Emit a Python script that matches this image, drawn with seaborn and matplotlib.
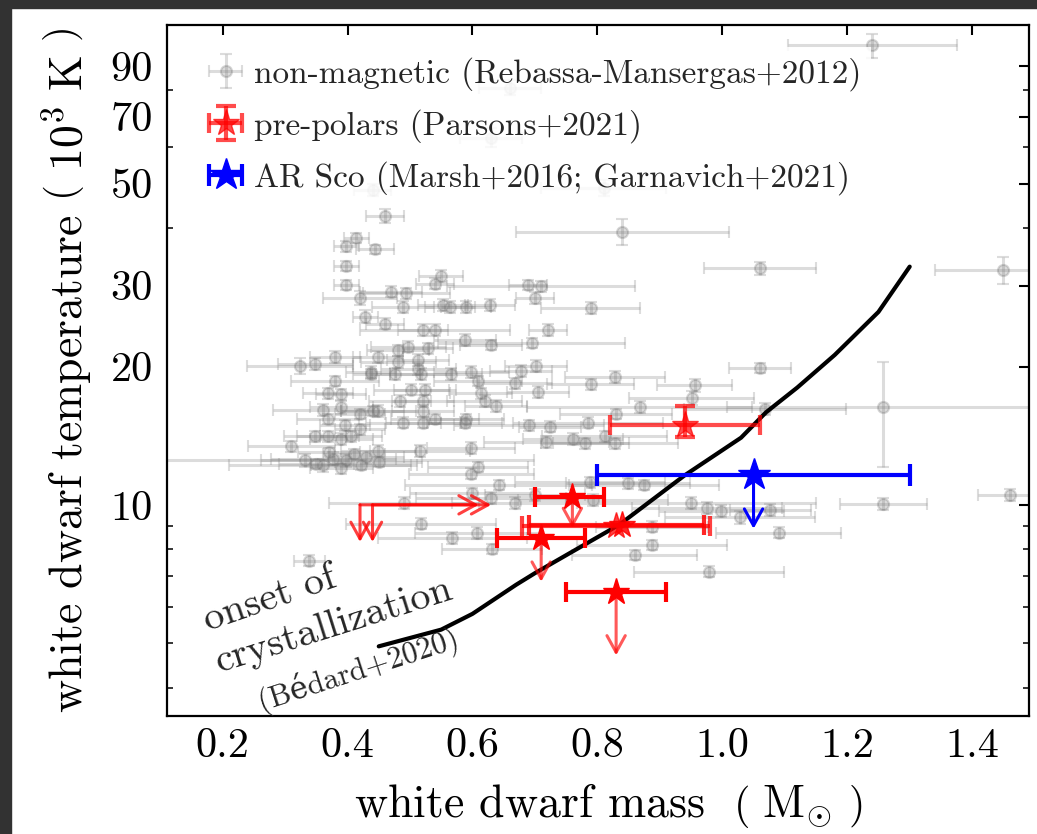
import matplotlib
matplotlib.use("Agg")
import matplotlib.pyplot as plt
import seaborn as sns
from matplotlib.ticker import FixedLocator, FixedFormatter, NullFormatter
from matplotlib.patches import Rectangle

# ---------------- data ----------------
# non-magnetic white dwarfs (Rebassa-Mansergas+2012): mass (Msun), Teff (10^3 K)
nm_mass = [1.24, 0.66, 0.63, 0.44, 0.46, 0.81, 0.84, 1.06, 1.45, 0.414,
           0.398, 0.444, 0.398, 0.398, 0.42, 0.428, 0.55, 0.54, 0.47, 0.494,
           0.689, 0.71, 0.70, 0.489, 0.553, 0.564, 0.59, 0.628, 0.46, 0.521,
           0.54, 0.721, 0.789, 0.695, 0.588, 0.63, 0.449, 0.481, 0.497, 0.513,
           0.529, 0.481, 0.678, 0.702, 0.513, 0.566, 0.598, 0.609, 0.668, 0.705,
           0.438, 0.476, 0.518, 0.502, 0.524, 0.521, 0.614, 0.62, 0.638, 0.484,
           0.449, 0.521, 0.489, 0.521, 0.54, 0.588, 0.724, 0.718, 0.598, 0.516,
           0.609, 0.598, 0.828, 0.789, 0.956, 0.951, 0.868, 1.068, 1.06, 1.258,
           0.83, 0.785, 0.69, 0.812, 0.761, 0.78, 0.829, 0.642, 0.788, 0.849,
           0.874, 0.49, 0.60, 0.63, 0.668, 0.70, 0.793, 0.95, 0.975, 0.998,
           1.028, 1.077, 1.09, 0.518, 0.568, 0.608, 0.632, 0.887, 0.887, 0.86,
           0.978, 0.339, 1.46, 1.258, 0.324, 0.348, 0.38, 0.38, 0.369, 0.39,
           0.361, 0.39, 0.369, 0.42, 0.44, 0.438, 0.31, 0.348, 0.369, 0.39,
           0.396, 0.406, 0.42, 0.43, 0.332, 0.377, 0.398, 0.422, 0.361, 0.449,
           0.59, 0.35, 0.39, 0.41, 0.45, 0.37]
nm_temp = [100.0, 81.0, 63.0, 48.5, 42.5, 49.0, 39.3, 32.7, 32.5, 38.1,
           36.6, 36.0, 33.1, 30.1, 28.2, 25.7, 31.5, 30.3, 29.1, 28.9,
           30.1, 29.9, 28.2, 27.0, 27.2, 27.0, 27.0, 27.2, 24.8, 24.0,
           24.0, 24.0, 26.8, 22.5, 22.9, 22.3, 21.0, 21.7, 22.1, 20.7,
           21.9, 20.5, 19.6, 20.1, 19.8, 19.3, 19.5, 18.6, 18.4, 17.6,
           19.5, 19.3, 19.3, 17.8, 17.8, 16.8, 17.5, 16.8, 16.4, 16.8,
           16.0, 16.0, 15.1, 15.1, 15.4, 15.1, 14.8, 13.7, 13.3, 13.1,
           12.1, 11.7, 19.0, 18.3, 18.2, 17.1, 16.35, 16.2, 19.9, 16.3,
           15.8, 15.1, 14.9, 14.1, 13.9, 13.6, 13.6, 11.05, 11.2, 11.15,
           11.05, 10.1, 10.6, 10.35, 10.1, 10.5, 10.25, 10.1, 9.85, 9.7,
           9.4, 9.75, 8.7, 9.1, 8.46, 8.68, 8.0, 8.97, 8.18, 7.78,
           7.15, 7.56, 10.5, 10.05, 20.1, 20.3, 21.0, 18.6, 17.5, 17.4,
           16.1, 16.3, 15.4, 15.8, 16.0, 19.3, 13.4, 14.1, 14.1, 13.9,
           14.9, 14.1, 14.6, 12.7, 12.5, 12.6, 12.5, 12.2, 12.2, 13.1,
           15.4, 12.3, 12.0, 12.9, 12.4, 13.0]
nm_mass_err = [0.135, 0.05, 0.05, 0.03, 0.03, 0.10, 0.17, 0.09, 0.11, 0.02,
               0.02, 0.03, 0.02, 0.02, 0.06, 0.02, 0.035, 0.03, 0.05, 0.07,
               0.03, 0.15, 0.03, 0.05, 0.04, 0.04, 0.04, 0.04, 0.03, 0.04,
               0.12, 0.03, 0.08, 0.15, 0.05, 0.05, 0.04, 0.05, 0.06, 0.05,
               0.04, 0.06, 0.05, 0.05, 0.06, 0.05, 0.06, 0.07, 0.06, 0.05,
               0.04, 0.04, 0.05, 0.06, 0.05, 0.05, 0.05, 0.06, 0.05, 0.05,
               0.06, 0.05, 0.06, 0.06, 0.07, 0.06, 0.05, 0.10, 0.07, 0.08,
               0.08, 0.10, 0.08, 0.07, 0.06, 0.10, 0.18, 0.13, 0.05, 0.25,
               0.09, 0.12, 0.12, 0.10, 0.08, 0.07, 0.10, 0.15, 0.12, 0.10,
               0.12, 0.12, 0.10, 0.12, 0.10, 0.08, 0.12, 0.20, 0.12, 0.10,
               0.12, 0.065, 0.10, 0.12, 0.12, 0.10, 0.08, 0.09, 0.12, 0.10,
               0.12, 0.025, 0.05, 0.07, 0.085, 0.06, 0.04, 0.07, 0.04, 0.04,
               0.08, 0.05, 0.05, 0.04, 0.05, 0.03, 0.07, 0.05, 0.05, 0.05,
               0.04, 0.05, 0.04, 0.06, 0.07, 0.10, 0.30, 0.08, 0.15, 0.06,
               0.06, 0.06, 0.05, 0.05, 0.07, 0.05]
nm_temp_err = [6.0, 3.0, 3.0, 1.5, 1.5, 2.0, 2.5, 1.0, 2.2, 1.0,
               1.0, 0.8, 0.8, 0.8, 1.0, 0.8, 1.0, 0.8, 0.8, 0.8,
               0.8, 0.8, 0.8, 0.8, 0.8, 0.8, 0.8, 0.8, 0.7, 0.7,
               0.7, 0.7, 0.8, 0.6, 0.7, 0.6, 0.6, 0.6, 0.6, 0.6,
               0.6, 0.6, 0.6, 0.6, 0.6, 0.6, 0.6, 0.5, 0.5, 0.5,
               0.6, 0.6, 0.6, 0.5, 0.5, 0.5, 0.5, 0.5, 0.5, 0.5,
               0.5, 0.5, 0.4, 0.4, 0.4, 0.4, 0.4, 0.4, 0.4, 0.4,
               0.3, 0.3, 0.6, 0.5, 0.6, 0.6, 0.5, 0.5, 0.5, 4.2,
               0.4, 0.4, 0.4, 0.4, 0.4, 0.4, 0.4, 0.3, 0.3, 0.3,
               0.3, 0.3, 0.3, 0.3, 0.3, 0.3, 0.3, 0.3, 0.3, 0.3,
               0.3, 0.3, 0.25, 0.25, 0.25, 0.25, 0.2, 0.25, 0.2, 0.2,
               0.2, 0.2, 0.3, 0.3, 0.8, 0.6, 0.6, 0.5, 0.5, 0.5,
               0.5, 0.5, 0.4, 0.4, 0.4, 0.5, 0.4, 0.4, 0.4, 0.4,
               0.4, 0.4, 0.4, 0.4, 0.4, 0.4, 0.4, 0.3, 0.4, 0.4,
               0.4, 0.3, 0.3, 0.3, 0.3, 0.3]

# pre-polars (Parsons+2021)
pp_mass = [0.94, 0.76, 0.83, 0.84, 0.71, 0.83]
pp_temp = [14.9, 10.4, 9.0, 9.05, 8.45, 6.45]
pp_mass_lo = [0.82, 0.70, 0.68, 0.69, 0.64, 0.75]
pp_mass_hi = [1.06, 0.81, 0.98, 0.97, 0.78, 0.91]
pp_temp_lo = [14.05, 10.4, 9.0, 9.05, 8.45, 6.45]
pp_temp_hi = [16.4, 10.4, 9.0, 9.05, 8.45, 6.45]
pp_temp_limit = [None, 8.9, None, None, 6.8, 4.7]
# pre-polars with mass lower limits and temperature upper limits
lim_mass = [0.42, 0.44]
lim_temp = [10.0, 10.0]
lim_mass_to = [0.61, 0.63]
lim_temp_to = [8.3, 8.3]

# AR Sco (Marsh+2016; Garnavich+2021)
ar_mass = [1.05]
ar_temp = [11.6]
ar_mass_lo = [0.80]
ar_mass_hi = [1.30]
ar_temp_limit = [8.87]

# onset of crystallization (Bedard+2020)
curve_mass = [0.45, 0.55, 0.60, 0.67, 0.70, 0.78, 0.835, 0.94, 1.03, 1.07,
              1.12, 1.18, 1.25, 1.30]
curve_temp = [4.92, 5.35, 5.79, 6.7, 7.1, 8.2, 9.05, 11.6, 14.0, 15.9,
              18.0, 21.2, 26.3, 33.0]

ytick_vals = [10, 20, 30, 50, 70, 90]
ytick_labels = ["10", "20", "30", "50", "70", "90"]
yminor_vals = [4, 5, 6, 7, 8, 9, 40, 60, 80]
xtick_vals = [0.2, 0.4, 0.6, 0.8, 1.0, 1.2, 1.4]
xtick_labels = ["0.2", "0.4", "0.6", "0.8", "1.0", "1.2", "1.4"]

labels = ["non-magnetic (Rebassa-Mansergas+2012)",
          "pre-polars (Parsons+2021)",
          "AR Sco (Marsh+2016; Garnavich+2021)"]

# ---------------- style ----------------
sns.set_theme(style="white")
plt.rcParams["font.family"] = ["cmr10", "DejaVu Serif"]
plt.rcParams["mathtext.fontset"] = "cm"
plt.rcParams["axes.formatter.use_mathtext"] = True
plt.rcParams["axes.unicode_minus"] = False

fig = plt.figure(figsize=(10.37, 8.34), dpi=100, facecolor="white")
ax = fig.add_axes([167 / 1037, 1 - 716 / 834, (1029 - 167) / 1037, (716 - 25) / 834])
ax.set_facecolor("white")

# dark screenshot frame
fig.add_artist(Rectangle((0, 0), 11 / 1037, 1, transform=fig.transFigure,
                         color="#323232", zorder=-10))
fig.add_artist(Rectangle((0, 1 - 8 / 834), 1, 8 / 834, transform=fig.transFigure,
                         color="#323232", zorder=-10))

# non-magnetic
h_gray = ax.errorbar(nm_mass, nm_temp, xerr=nm_mass_err, yerr=nm_temp_err,
                     fmt="o", color="gray", ms=8, mfc="gray", mec="dimgray",
                     mew=1.5, elinewidth=2.2, capsize=4, capthick=1.4,
                     alpha=0.27, zorder=1)

# crystallization curve
sns.lineplot(x=curve_mass, y=curve_temp, color="black", linewidth=3,
             sort=False, ax=ax, zorder=3)

# pre-polars
red_alpha = [0.7, 1.0, 0.75, 0.85, 1.0, 1.0]
h_red = None
for i in range(len(pp_mass)):
    xe = [[pp_mass[i] - pp_mass_lo[i]], [pp_mass_hi[i] - pp_mass[i]]]
    ye = [[pp_temp[i] - pp_temp_lo[i]], [pp_temp_hi[i] - pp_temp[i]]]
    h = ax.errorbar([pp_mass[i]], [pp_temp[i]], xerr=xe,
                    yerr=ye if pp_temp_hi[i] != pp_temp[i] else None,
                    fmt="*", color="red", ms=20, elinewidth=3, capsize=7,
                    capthick=3, alpha=red_alpha[i], zorder=5)
    if i == 0:
        h_red = h
    if pp_temp_limit[i] is not None:
        ax.annotate("", xy=(pp_mass[i], pp_temp_limit[i]),
                    xytext=(pp_mass[i], pp_temp[i]),
                    arrowprops=dict(arrowstyle="->,head_length=0.6,head_width=0.33",
                                    color="red", alpha=0.65, lw=2.2,
                                    mutation_scale=20, shrinkA=0, shrinkB=0),
                    zorder=4)

for i in range(len(lim_mass)):
    ax.annotate("", xy=(lim_mass_to[i], lim_temp[i]),
                xytext=(lim_mass[i], lim_temp[i]),
                arrowprops=dict(arrowstyle="->,head_length=0.6,head_width=0.33",
                                color="red", alpha=0.75, lw=2.2,
                                mutation_scale=20, shrinkA=0, shrinkB=0),
                zorder=4)
    ax.annotate("", xy=(lim_mass[i], lim_temp_to[i]),
                xytext=(lim_mass[i], lim_temp[i]),
                arrowprops=dict(arrowstyle="->,head_length=0.6,head_width=0.33",
                                color="red", alpha=0.75, lw=2.2,
                                mutation_scale=20, shrinkA=0, shrinkB=0),
                zorder=4)

# AR Sco
h_blue = ax.errorbar(ar_mass, ar_temp,
                     xerr=[[ar_mass[0] - ar_mass_lo[0]], [ar_mass_hi[0] - ar_mass[0]]],
                     fmt="*", color="blue", ms=24, elinewidth=3, capsize=8,
                     capthick=3, zorder=6)
ax.annotate("", xy=(ar_mass[0], ar_temp_limit[0]), xytext=(ar_mass[0], ar_temp[0]),
            arrowprops=dict(arrowstyle="->,head_length=0.6,head_width=0.33",
                            color="blue", lw=2.2, mutation_scale=20,
                            shrinkA=0, shrinkB=0),
            zorder=6)

# axes
ax.set_yscale("log")
ax.set_xlim(0.111, 1.491)
ax.set_ylim(3.47, 110.8)
ax.yaxis.set_major_locator(FixedLocator(ytick_vals))
ax.yaxis.set_major_formatter(FixedFormatter(ytick_labels))
ax.yaxis.set_minor_locator(FixedLocator(yminor_vals))
ax.yaxis.set_minor_formatter(NullFormatter())
ax.xaxis.set_major_locator(FixedLocator(xtick_vals))
ax.xaxis.set_major_formatter(FixedFormatter(xtick_labels))
ax.xaxis.set_minor_locator(FixedLocator([]))

ax.tick_params(axis="both", which="major", direction="in", length=7, width=1.5,
               top=True, right=True, labelsize=30.5, colors="black")
ax.tick_params(axis="y", which="minor", direction="in", length=4.5, width=1.3,
               left=True, right=True)
ax.tick_params(axis="x", which="major", pad=8)
ax.tick_params(axis="y", which="major", pad=10)
for s in ax.spines.values():
    s.set_linewidth(1.6)
    s.set_color("black")

ax.set_xlabel(r"white dwarf mass $\ \left(\ \mathrm{M}_{\odot}\ \right)$",
              fontsize=33, labelpad=12, color="black")
ax.xaxis.label.set_x(0.512)
ax.set_ylabel(r"white dwarf temperature $\left(\ 10^{3}\ \mathrm{K}\ \right)$",
              fontsize=33, labelpad=11, color="black")

# annotation
ax.text(0.047, 0.1234, "onset of", transform=ax.transAxes, fontsize=29,
        rotation=19, rotation_mode="anchor", ha="left", va="baseline")
ax.text(0.0605, 0.0632, "crystallization", transform=ax.transAxes, fontsize=29,
        rotation=17.5, rotation_mode="anchor", ha="left", va="baseline")
ax.text(0.110, 0.009, "(Bédard+2020)", transform=ax.transAxes, fontsize=22,
        rotation=18, rotation_mode="anchor", ha="left", va="baseline")

leg = ax.legend([h_gray, h_red, h_blue], labels, loc="upper left",
                bbox_to_anchor=(0.035, 0.968), frameon=True, fancybox=False,
                edgecolor="none", facecolor="white", framealpha=0.85,
                fontsize=24, handlelength=1.1, handletextpad=0.3,
                labelspacing=0.55, borderaxespad=0.0, borderpad=0.3)

fig.savefig("out.png", dpi=100, facecolor="white")
